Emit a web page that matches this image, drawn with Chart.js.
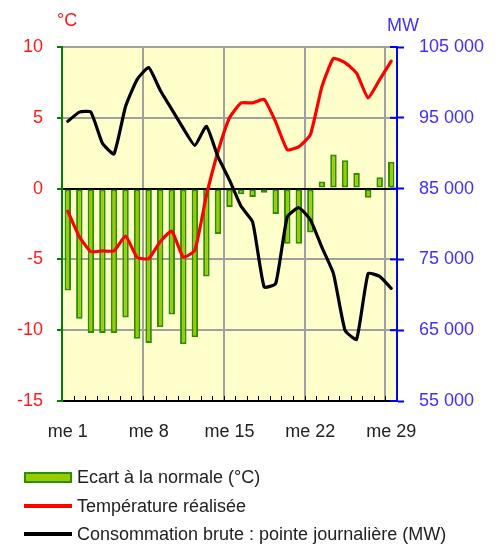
<!DOCTYPE html>
<html>
<head>
<meta charset="utf-8">
<script src="https://cdn.jsdelivr.net/npm/chart.js@4/dist/chart.umd.min.js"></script>
<style>
  html, body { margin: 0; padding: 0; background: #fff; }
  #wrap { position: relative; width: 501px; height: 545px; font-family: "Liberation Sans", Arial, sans-serif; }
  canvas { position: absolute; left: 0; top: 0; }
  .lbl { position: absolute; font-size: 18px; line-height: 20px; white-space: nowrap; }
  .leg { position: absolute; left: 24px; height: 20px; font-size: 18px; line-height: 20px; color: #222; white-space: nowrap; }
  .leg .sw { position: absolute; left: 0; }
  .leg .tx { position: absolute; left: 53px; top: 0; }
</style>
</head>
<body>
<div id="wrap">
  <canvas id="c" width="501" height="545"></canvas>
  <div class="lbl" style="left:57px; top:10px; color:#ff1a1a;">°C</div>
  <div class="lbl" style="left:387px; top:15px; color:#4030ff;">MW</div>
  <div class="leg" style="top:467px;"><div class="sw" style="top:5px; width:44px; height:7px; background:#99cc00; border:2px solid #2e8f00;"></div><div class="tx">Ecart à la normale (°C)</div></div>
  <div class="leg" style="top:496px;"><div class="sw" style="top:8px; width:48px; height:4px; background:#ff0000;"></div><div class="tx">Température réalisée</div></div>
  <div class="leg" style="top:524px;"><div class="sw" style="top:8px; width:48px; height:4px; background:#000;"></div><div class="tx">Consommation brute : pointe journalière (MW)</div></div>
</div>
<script>
// Categories: days of the month
const days = ['me 1','je 2','ve 3','sa 4','di 5','lu 6','ma 7','me 8','je 9','ve 10','sa 11','di 12','lu 13','ma 14',
  'me 15','je 16','ve 17','sa 18','di 19','lu 20','ma 21','me 22','je 23','ve 24','sa 25','di 26','lu 27','ma 28','me 29'];

// Ecart à la normale (°C)
const ecart = [-7.2,-9.2,-10.2,-10.2,-10.2,-9.1,-10.6,-10.9,-9.8,-8.9,-11.0,-10.5,-6.2,-3.2,
  -1.3,-0.4,-0.6,-0.3,-1.8,-3.9,-3.9,-3.1,0.5,2.4,2.0,1.1,-0.65,0.8,1.9];

// Température réalisée (°C)
const temp = [-1.6,-3.4,-4.45,-4.4,-4.4,-3.35,-4.85,-4.95,-3.75,-3.0,-4.85,-4.35,-0.5,2.6,
  5.0,6.05,6.05,6.3,4.7,2.75,2.95,3.8,7.2,9.2,8.9,8.15,6.4,7.7,9.0];

// Consommation brute : pointe journalière (MW)
const mw = [94500,95800,95800,91400,89900,96600,100400,102100,98900,96200,93500,91100,93800,89500,
  86200,82500,80300,71100,71600,81000,82300,80600,76700,73000,65000,63700,73000,72600,70900];

// Axis ranges / ticks
const tempMin = -15, tempMax = 10, tempStep = 5;
const mwMin = 55000, mwMax = 105000, mwStep = 10000;
const labelEvery = 7;

const FONT = { family: '"Liberation Sans", Arial, sans-serif', size: 18 };

const plotBg = {
  id: 'plotBg',
  beforeDraw(chart) {
    const { ctx, chartArea: a } = chart;
    ctx.save();
    ctx.fillStyle = '#ffffcc';
    ctx.fillRect(a.left, a.top, a.right - a.left, a.bottom - a.top);
    ctx.restore();
  }
};

const innerTicks = {
  id: 'innerTicks',
  afterDraw(chart) {
    const { ctx, chartArea: a, scales } = chart;
    const x = scales.x, y2 = scales.y2;
    ctx.save();
    const half = (x.getPixelForValue(1) - x.getPixelForValue(0)) / 2;
    ctx.strokeStyle = '#000';
    ctx.lineWidth = 1;
    for (let i = 1; i < days.length; i++) {
      const px = Math.round(x.getPixelForValue(i) - half) + 0.5;
      ctx.beginPath();
      ctx.moveTo(px, a.bottom);
      ctx.lineTo(px, a.bottom - 5);
      ctx.stroke();
    }
    ctx.strokeStyle = '#0000ff';
    ctx.lineWidth = 2;
    y2.ticks.forEach(t => {
      const py = y2.getPixelForValue(t.value);
      ctx.beginPath();
      ctx.moveTo(a.right - 7, py);
      ctx.lineTo(a.right, py);
      ctx.stroke();
    });
    ctx.restore();
  }
};

new Chart(document.getElementById('c'), {
  type: 'bar',
  data: {
    labels: days,
    datasets: [
      {
        type: 'line', label: 'Consommation brute : pointe journalière (MW)', data: mw, yAxisID: 'y2',
        borderColor: '#000', borderWidth: 3.2, pointRadius: 0, tension: 0.15, order: 1,
        borderJoinStyle: 'round', borderCapStyle: 'round'
      },
      {
        type: 'line', label: 'Température réalisée', data: temp, yAxisID: 'y',
        borderColor: '#ff0000', borderWidth: 3.2, pointRadius: 0, tension: 0.15, order: 2,
        borderJoinStyle: 'round', borderCapStyle: 'round'
      },
      {
        type: 'bar', label: 'Ecart à la normale (°C)', data: ecart, yAxisID: 'y',
        backgroundColor: '#99cc00', borderColor: '#2e8f00', borderWidth: 2, borderSkipped: false,
        barPercentage: 0.56, categoryPercentage: 1, order: 3
      }
    ]
  },
  options: {
    responsive: false,
    devicePixelRatio: 1,
    animation: false,
    layout: { padding: { left: 0, right: 0, top: 47, bottom: 84 } },
    plugins: { legend: { display: false }, tooltip: { enabled: false } },
    scales: {
      x: {
        offset: true,
        grid: {
          offset: true,
          drawTicks: false,
          lineWidth: 2,
          color: ctx => (ctx.index % labelEvery === 0 && ctx.index > 0 && ctx.index < days.length) ? '#a0a0a0' : 'rgba(0,0,0,0)'
        },
        border: { color: '#000', width: 2 },
        ticks: {
          autoSkip: false, maxRotation: 0, minRotation: 0, padding: 20, color: '#222', font: FONT,
          callback: (v, i) => (i % labelEvery === 0 ? days[i] : '')
        },
        afterFit: s => { s.height = 60; }
      },
      y: {
        position: 'left',
        min: tempMin, max: tempMax,
        ticks: { stepSize: tempStep, color: '#ff1a1a', font: FONT, padding: 14 },
        grid: {
          lineWidth: 2,
          color: ctx => (ctx.tick && (ctx.tick.value === 0 || ctx.tick.value === tempMin)) ? '#000' : '#a0a0a0',
          tickColor: '#008000', tickLength: 5, tickWidth: 2
        },
        border: { color: '#008000', width: 2 },
        afterFit: s => { s.width = 62; }
      },
      y2: {
        position: 'right',
        min: mwMin, max: mwMax,
        ticks: {
          stepSize: mwStep, color: '#4030ff', font: FONT, padding: 15,
          callback: v => String(v).replace(/\B(?=(\d{3})+(?!\d))/g, ' ')
        },
        grid: { drawOnChartArea: false, tickColor: '#0000ff', tickLength: 7, tickWidth: 2 },
        border: { color: '#0000ff', width: 2 },
        afterFit: s => { s.width = 104; }
      }
    }
  },
  plugins: [plotBg, innerTicks]
});
</script>
</body>
</html>
